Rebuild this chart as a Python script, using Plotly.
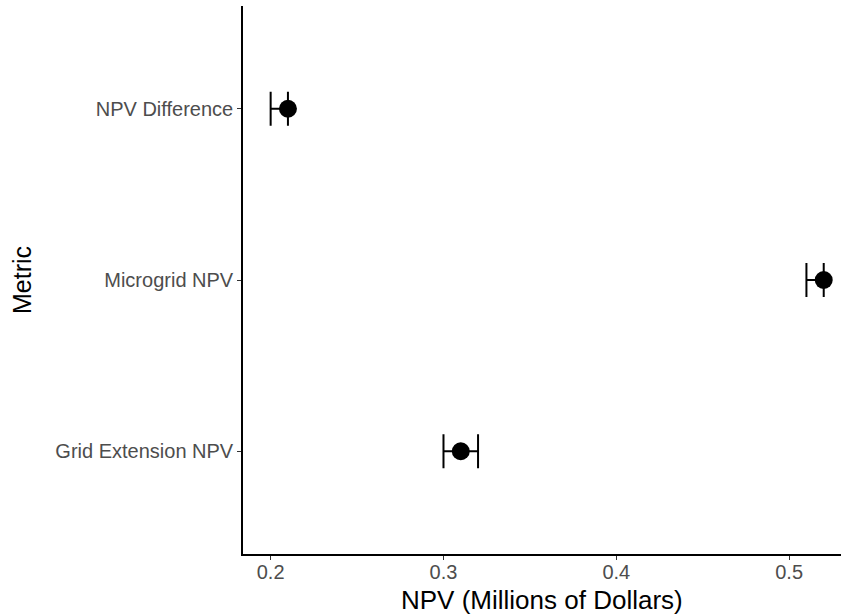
import plotly.graph_objects as go

metrics = ["Grid Extension NPV", "Microgrid NPV", "NPV Difference"]
npv_mean = [0.31, 0.52, 0.21]
npv_lower = [0.30, 0.51, 0.20]
npv_upper = [0.32, 0.52, 0.21]
x_ticks = [0.2, 0.3, 0.4, 0.5]
x_tick_labels = ["0.2", "0.3", "0.4", "0.5"]

plus = [u - m for u, m in zip(npv_upper, npv_mean)]
minus = [m - l for m, l in zip(npv_mean, npv_lower)]

fig = go.Figure()
fig.add_trace(go.Scatter(
    x=npv_mean, y=metrics, mode="markers",
    marker=dict(color="black", size=18),
    error_x=dict(type="data", symmetric=False, array=plus, arrayminus=minus,
                 color="black", thickness=2, width=17),
    showlegend=False,
))

font_family = "Liberation Sans, Arial, sans-serif"
fig.update_layout(
    width=841, height=615,
    margin=dict(l=243, r=0, t=6, b=61),
    plot_bgcolor="white", paper_bgcolor="white",
    font=dict(family=font_family),
    xaxis=dict(
        range=[0.184, 0.530], automargin=False,
        tickvals=x_ticks, ticktext=x_tick_labels,
        showgrid=False, zeroline=False,
        showline=True, linecolor="black", linewidth=1.6,
        ticks="outside", ticklen=4, tickcolor="#333333", tickwidth=1.3,
        tickfont=dict(size=20, color="#4D4D4D"),
        ticklabelstandoff=-5,
    ),
    yaxis=dict(
        type="category", categoryorder="array", categoryarray=metrics,
        range=[-0.6, 2.6], automargin=False,
        showgrid=False, zeroline=False,
        showline=True, linecolor="black", linewidth=1.6,
        ticks="outside", ticklen=4, tickcolor="#333333", tickwidth=1.3,
        tickfont=dict(size=20, color="#4D4D4D"),
    ),
    annotations=[
        dict(text="NPV (Millions of Dollars)", xref="paper", yref="paper",
             x=0.5, y=0, yshift=-46, xanchor="center", yanchor="middle",
             showarrow=False, font=dict(size=26, color="black")),
        dict(text="Metric", xref="paper", yref="paper",
             x=0, xshift=-221, y=0.5, xanchor="center", yanchor="middle",
             textangle=-90, showarrow=False, font=dict(size=25, color="black")),
    ],
)

fig.write_html("out.html", config={"displayModeBar": False},
               post_script="document.body.style.margin='0';")
